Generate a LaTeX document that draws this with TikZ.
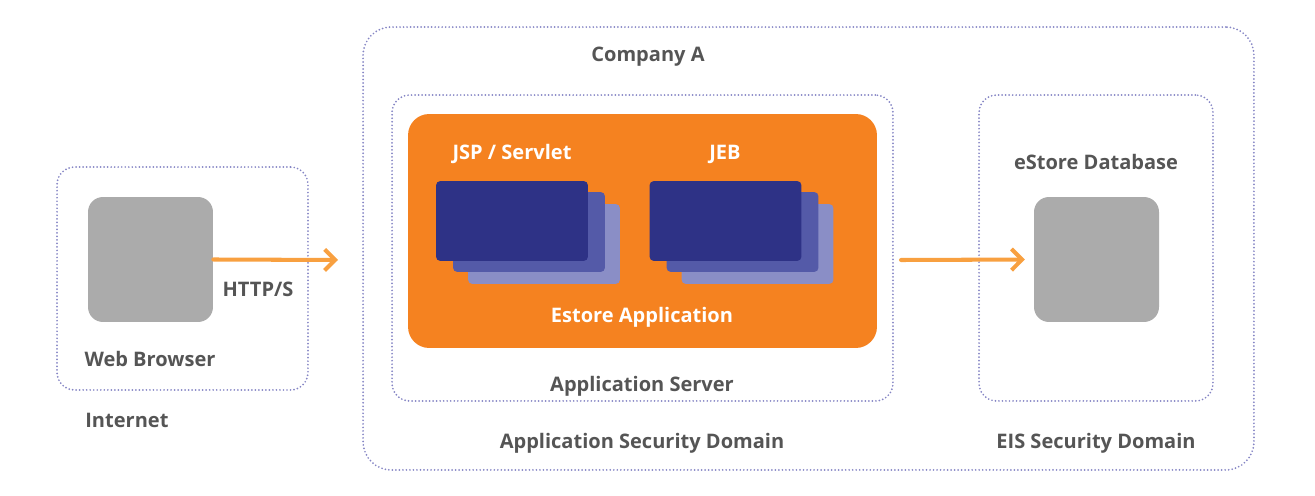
\documentclass[tikz,border=0pt]{standalone}
\usepackage{fontspec}
\setmainfont{Open Sans}
\usetikzlibrary{arrows.meta,positioning}
\definecolor{txtgray}{HTML}{555555}
\definecolor{dotline}{HTML}{8585C4}
\definecolor{appfill}{HTML}{F58220}
\definecolor{flowline}{HTML}{F8A040}
\definecolor{hostgray}{HTML}{ABABAB}
\definecolor{cardfront}{HTML}{2E3286}
\definecolor{cardmid}{HTML}{545AA8}
\definecolor{cardback}{HTML}{8A8EC6}

\begin{document}
\begin{tikzpicture}[x=0.02cm,y=-0.02cm,
		zonebox/.style={draw=dotline,line width=1.1pt,dash pattern=on 0pt off 2pt,line cap=round,rounded corners=10pt,inner sep=0pt,outer sep=0pt},
		host/.style={fill=hostgray,rounded corners=8.5pt,minimum width=2.5cm,minimum height=2.5cm,inner sep=0pt},
		card/.style={rounded corners=2.5pt,minimum width=3.04cm,minimum height=1.6cm,inner sep=0pt},
		lbl/.style={text=txtgray,font=\fontsize{11.4}{13}\selectfont\bfseries,inner sep=0pt},
		wlbl/.style={lbl,text=white},
		flow/.style={draw=flowline,line width=2.3pt,line cap=round,-{Straight Barb[length=6pt,width=12pt]}}]
		\useasboundingbox (0,0) rectangle (1315,496);
		% zones
		\node[zonebox,rounded corners=16pt,minimum width=17.82cm,minimum height=8.86cm] (company) at (808.5,248.5) {};
		\node[zonebox,minimum width=5.02cm,minimum height=4.46cm] (internet) at (182.5,278.5) {};
		\node[zonebox,minimum width=10.02cm,minimum height=6.12cm] (appserver) at (642.5,248) {};
		\node[zonebox,minimum width=4.68cm,minimum height=6.12cm] (eis) at (1096,248) {};

		% application
		\node[fill=appfill,rounded corners=12pt,minimum width=9.38cm,minimum height=4.68cm,inner sep=0pt] (estore) at (642.5,231) {};
		\node[card,fill=cardback] (jsp3) at (544,244) {};
		\node[card,fill=cardmid] (jsp2) at (529,232) {};
		\node[card,fill=cardfront] (jsp1) at (512,221) {};
		\node[card,fill=cardback] (jeb3) at (757.5,244) {};
		\node[card,fill=cardmid] (jeb2) at (742.5,232) {};
		\node[card,fill=cardfront] (jeb1) at (725.5,221) {};

		% hosts
		\node[host] (browser) at (150.5,259.5) {};
		\node[host] (db) at (1096.5,259.5) {};

		\coordinate (httpend) at (338,260);
		\coordinate (jdbcstart) at (901,260);
		\draw[flow] (browser.east) -- (httpend);
		\draw[flow,shorten >=5pt] (jdbcstart) -- (db.west);

		% labels
		\node[lbl] (companylbl) at (648,57) {Company A};
		\node[wlbl] (jsplbl) at (512,154) {JSP / Servlet};
		\node[wlbl] (jeblbl) at (725,154) {JEB};
		\node[wlbl] (estorelbl) at (642,317) {Estore Application};
		\node[lbl] (appserverlbl) at (642,386) {Application Server};
		\node[lbl] (appdomainlbl) at (642,443) {Application Security Domain};
		\node[lbl] (eislbl) at (1096,443) {EIS Security Domain};
		\node[lbl] (dblbl) at (1096,162) {eStore Database};
		\node[lbl] (browserlbl) at (150,359) {Web Browser};
		\node[lbl,anchor=west] (internetlbl) at (85,420) {Internet};
		\node[lbl] (httplbl) at (258,289) {HTTP/S};
\end{tikzpicture}
\end{document}
